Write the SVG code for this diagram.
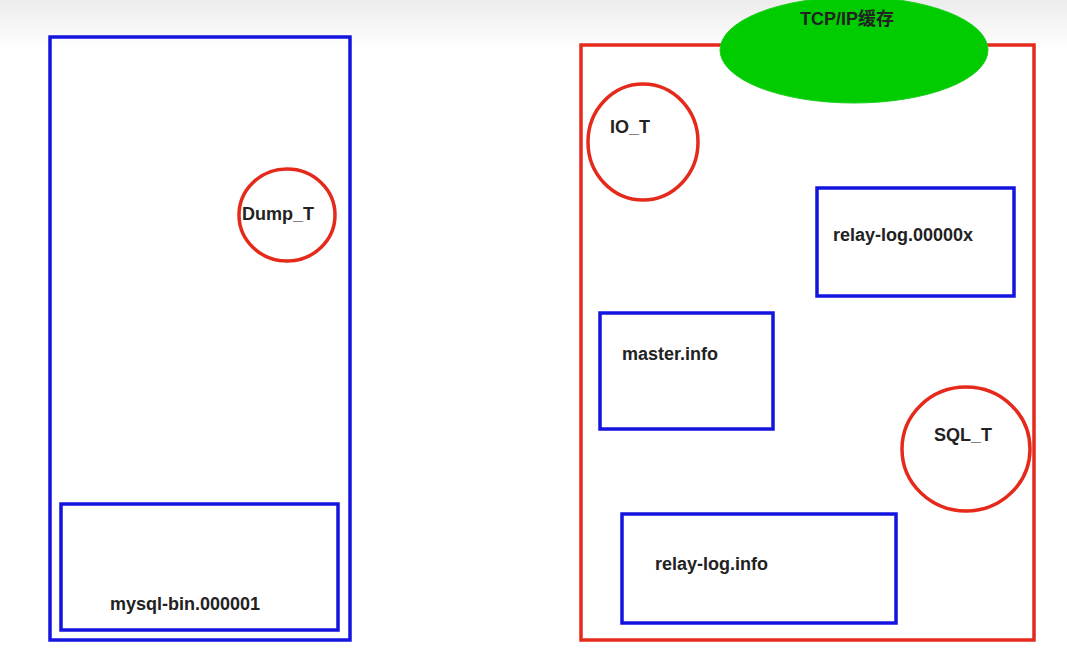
<svg xmlns="http://www.w3.org/2000/svg" width="1067" height="652" viewBox="0 0 1067 652">
<style>
.blue{fill:none;stroke:#1414e0;stroke-width:3.5}
.red{fill:none;stroke:#e52a1c;stroke-width:3.5}
.t{font-family:"Liberation Sans","Noto Sans CJK SC",sans-serif;font-weight:bold;font-size:18px;fill:#222}
</style>
<defs>
<linearGradient id="bg" x1="0" y1="0" x2="0" y2="1">
<stop offset="0" stop-color="#ececec"/>
<stop offset="1" stop-color="#ffffff"/>
</linearGradient>
</defs>
<rect width="1067" height="652" fill="#fff"/>
<rect width="1067" height="50" fill="url(#bg)"/>
<g id="master">
<rect class="blue" x="50" y="37" width="300" height="603"/>
</g>
<g id="mysql-bin">
<rect class="blue" x="61" y="504" width="277" height="126"/>
<text class="t" x="110" y="610">mysql-bin.000001</text>
</g>
<g id="dump">
<ellipse class="red" cx="287" cy="215" rx="48" ry="46"/>
<text class="t" x="242" y="220">Dump_T</text>
</g>
<g id="slave">
<rect class="red" x="581" y="45" width="453" height="595"/>
</g>
<g id="tcpip">
<ellipse cx="854" cy="50" rx="134" ry="53" fill="#00cc00" stroke="#1bcf1b" stroke-width="1"/>
<text class="t" x="800" y="25">TCP/IP缓存</text>
</g>
<g id="io">
<ellipse class="red" cx="643" cy="142" rx="55" ry="58"/>
<text class="t" x="610" y="133">IO_T</text>
</g>
<g id="relaylog">
<rect class="blue" x="817" y="188" width="197" height="108"/>
<text class="t" x="833" y="241">relay-log.00000x</text>
</g>
<g id="masterinfo">
<rect class="blue" x="600" y="313" width="173" height="116"/>
<text class="t" x="622" y="360">master.info</text>
</g>
<g id="sql">
<ellipse class="red" cx="966" cy="449" rx="64" ry="62"/>
<text class="t" x="934" y="441">SQL_T</text>
</g>
<g id="relayinfo">
<rect class="blue" x="622" y="514" width="274" height="109"/>
<text class="t" x="655" y="570">relay-log.info</text>
</g>
<g id="connectors"></g>
</svg>
